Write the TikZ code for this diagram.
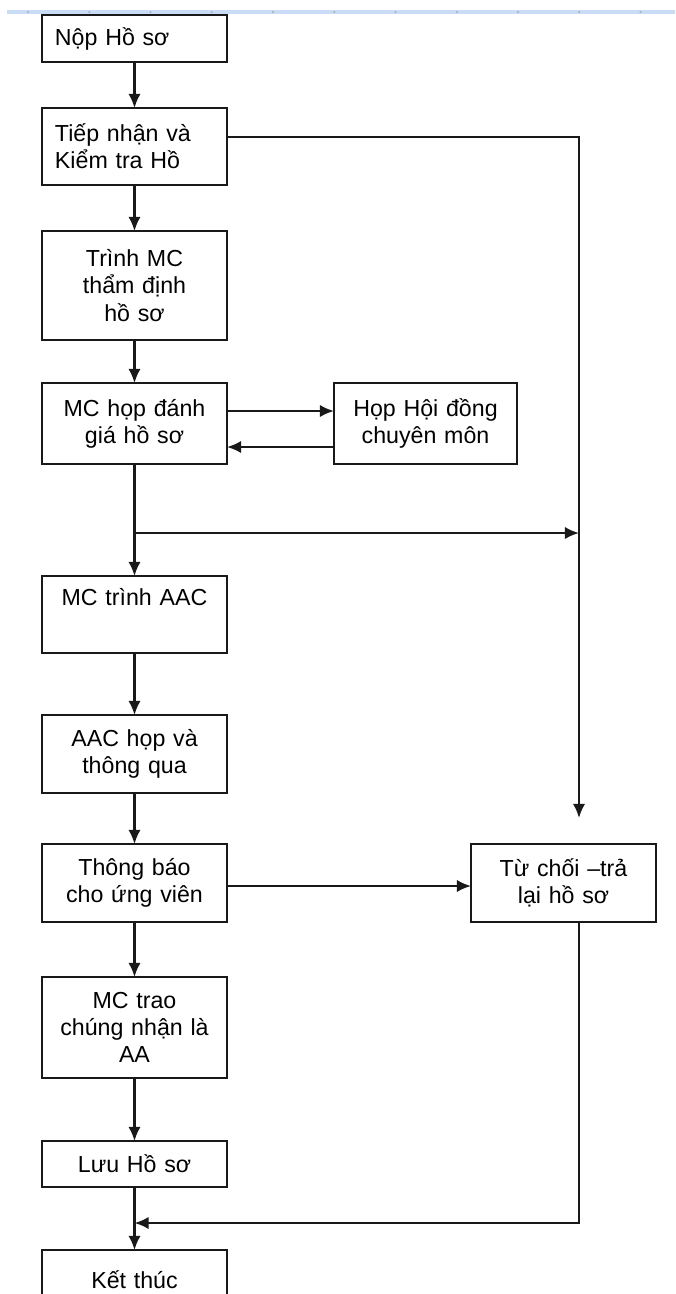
\documentclass[tikz,border=0pt]{standalone}
\usepackage{fontspec}
\setmainfont{Liberation Sans}
\usetikzlibrary{positioning, arrows.meta}
\definecolor{rulerblue}{RGB}{200,220,245}

\begin{document}
\begin{tikzpicture}[line width=1.3pt, draw=black!90, >={Latex[length=8pt,width=7pt]}]
    \tikzstyle{every node}=[font=\fontsize{13.2pt}{15.5pt}\selectfont, align=center]
    \tikzset{
        n/.style={draw=black!90, outer sep=0pt, inner xsep=0.26cm, inner ysep=0.1cm, text width=3.18cm},
        nl/.style={n, align=left},
        n2/.style={n, text width=3.14cm}
        }

    \useasboundingbox (0,0) rectangle (13.5,-25.88);

    %ruler
    \fill[rulerblue] (0.14,-0.2) rectangle (13.5,-0.28);
    \foreach \i in {0,...,10}
        \fill[black!30] ({0.56+1.225*\i},-0.24) circle (0.025);

    %main column
    \node (nop) [nl, minimum height=0.94cm, anchor=north west] at (0.84,-0.30) {Nộp Hồ sơ};
    \node (tiep) [nl, minimum height=1.54cm, below=0.92cm of nop] {Tiếp nhận và\\Kiểm tra Hồ};
    \node (trinh) [n, minimum height=2.18cm, below=0.92cm of tiep] {Trình MC\\thẩm định\\hồ sơ};
    \node (danhgia) [n, minimum height=1.62cm, below=0.86cm of trinh] {MC họp đánh\\giá hồ sơ};
    \node (trinhaac) [n, text height=0.48cm, text depth=0.86cm, below=2.24cm of danhgia] {MC trình AAC};
    \node (thongqua) [n, minimum height=1.56cm, below=1.24cm of trinhaac] {AAC họp và\\thông qua};
    \node (thongbao) [n, minimum height=1.56cm, below=1.02cm of thongqua] {Thông báo\\cho ứng viên};
    \node (trao) [n, minimum height=2.02cm, below=1.1cm of thongbao] {MC trao\\chúng nhận là\\AA};
    \node (luu) [n, minimum height=0.92cm, below=1.26cm of trao] {Lưu Hồ sơ};
    \node (ketthuc) [n, minimum height=1.2cm, below=1.26cm of luu] {Kết thúc};

    %side boxes
    \node (hoidong) [n2, minimum height=1.62cm, right=2.14cm of danhgia] {Họp Hội đồng\\chuyên môn};
    \node (tuchoi) [n, minimum height=1.56cm, right=4.88cm of thongbao] {Từ chối –trả\\lại hồ sơ};

    %free ends
    \coordinate (drop) at ([xshift=0.31cm, yshift=0.52cm]tuchoi.north);
    \coordinate (split) at ([yshift=-1.38cm]danhgia.south);
    \coordinate (back) at ([yshift=-0.72cm]luu.south);

    \draw[->] (nop.south) -- (tiep.north);
    \draw[->] (tiep.south) -- (trinh.north);
    \draw[->] (trinh.south) -- (danhgia.north);
    \draw[->] (danhgia.south) -- (trinhaac.north);
    \draw[->] (trinhaac.south) -- (thongqua.north);
    \draw[->] (thongqua.south) -- (thongbao.north);
    \draw[->] (thongbao.south) -- (trao.north);
    \draw[->] (trao.south) -- (luu.north);
    \draw[->] (luu.south) -- (ketthuc.north);

    \draw[->] ([yshift=0.25cm]danhgia.east) -- ([yshift=0.25cm]hoidong.west);
    \draw[->] ([yshift=-0.47cm]hoidong.west) -- ([yshift=-0.47cm]danhgia.east);

    % rejection
    \draw[->] ([yshift=0.19cm]tiep.east) -| (drop);
    \draw[->] (split) -- (split -| drop);
    \draw[->] ([yshift=-0.06cm]thongbao.east) -- ([yshift=-0.06cm]tuchoi.west);
    \draw[->] ([xshift=0.31cm]tuchoi.south) |- (back);
\end{tikzpicture}
\end{document}
